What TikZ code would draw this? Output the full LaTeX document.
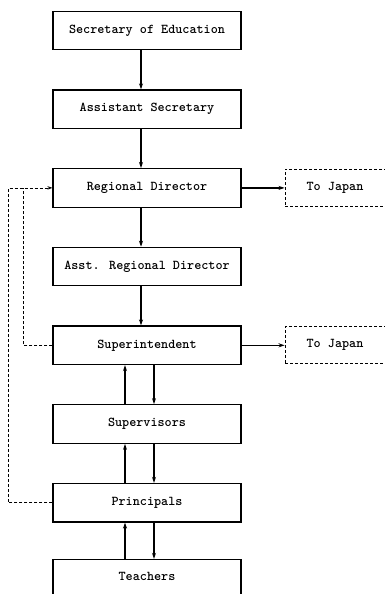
\documentclass[tikz,border=0pt]{standalone}
\usepackage{tikz}
\usetikzlibrary{positioning,arrows.meta}

\begin{document}
\begin{tikzpicture}[
    office/.style={draw,line width=1.2pt,minimum width=188pt,minimum height=38.5pt,
        inner sep=0pt,font=\ttfamily\bfseries\fontsize{13.5}{15}\selectfont},
    abroad/.style={draw,dashed,line width=0.8pt,dash pattern=on 3pt off 2pt,
        minimum width=100pt,minimum height=37pt,inner sep=0pt,
        font=\ttfamily\bfseries\fontsize{13.5}{15}\selectfont},
    link/.style={line width=1.2pt,-{Stealth[length=6pt,width=4pt]}},
    report/.style={line width=0.7pt,dash pattern=on 3pt off 2pt},
    node distance=39pt
]
    \useasboundingbox (0,0) rectangle (385pt,-594pt);

    \node[office] (sec) at (147pt,-30.5pt) {Secretary of Education};
    \node[office,below=of sec] (asec) {Assistant Secretary};
    \node[office,below=of asec] (rd) {Regional Director};
    \node[office,below=of rd] (ard) {Asst. Regional Director};
    \node[office,below=of ard] (supt) {Superintendent};
    \node[office,below=of supt] (sup) {Supervisors};
    \node[office,below=of sup] (prin) {Principals};
    \node[office,below=of prin,minimum height=44pt,yshift=2.75pt,anchor=north] (teach) {};
    \node at ([yshift=-18pt]teach.north) {\ttfamily\bfseries\fontsize{13.5}{15}\selectfont Teachers};

    \node[abroad,right=43pt of rd] (jp1) {To Japan};
    \node[abroad,right=43pt of supt] (jp2) {To Japan};

    % down the line
    \draw[link] ([xshift=-6pt]sec.south) -- ([xshift=-6pt]asec.north);
    \draw[link] ([xshift=-6pt]asec.south) -- ([xshift=-6pt]rd.north);
    \draw[link] ([xshift=-6pt]rd.south) -- ([xshift=-6pt]ard.north);
    \draw[link] ([xshift=-6pt]ard.south) -- ([xshift=-6pt]supt.north);
    \foreach \hi/\lo in {supt/sup,sup/prin,prin/teach}{
        \draw[link] ([xshift=7pt]\hi.south) -- ([xshift=7pt]\lo.north);
        \draw[link] ([xshift=-22pt]\lo.north) -- ([xshift=-22pt]\hi.south);
    }

    \draw[link] (rd) -- (jp1);
    \draw[link] (supt) -- (jp2);

    % reports back to the region
    \coordinate (join) at ([xshift=-29pt]rd.west);
    \draw[report,-{Stealth[length=5pt,width=3.5pt]}] (prin.west) -- ++(-44pt,0) |- (rd.west);
    \draw[report] (supt.west) -| (join);
\end{tikzpicture}
\end{document}
